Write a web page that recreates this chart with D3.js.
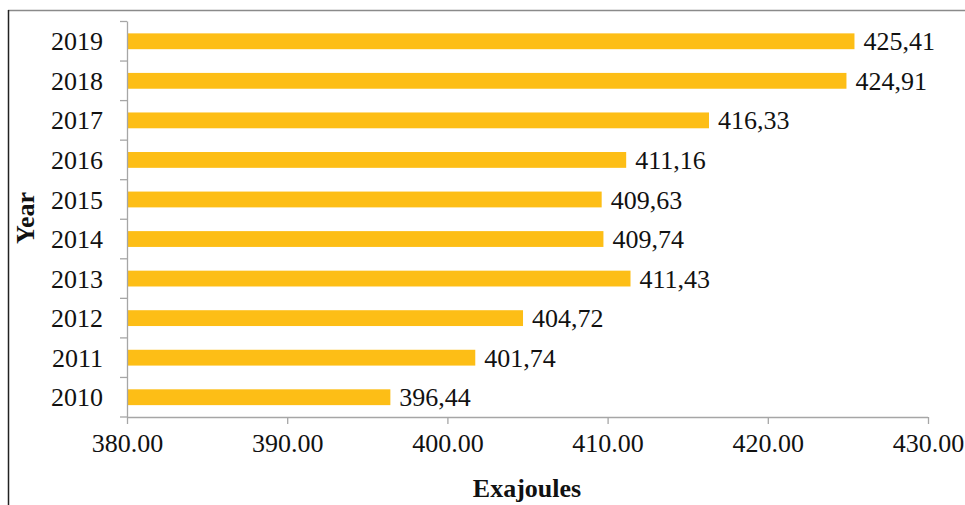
<!DOCTYPE html>
<html><head><meta charset="utf-8">
<script src="https://cdn.jsdelivr.net/npm/d3@7"></script>
<style>body{margin:0;background:#fff}svg{display:block}
svg text{font-family:"Liberation Serif","Times New Roman","DejaVu Serif",serif;}</style>
</head><body>
<svg id="c" width="965" height="505"></svg>
<script>
const years = ["2010","2011","2012","2013","2014","2015","2016","2017","2018","2019"];
const values = [396.44, 401.74, 404.72, 411.43, 409.74, 409.63, 411.16, 416.33, 424.91, 425.41];
const valueLabels = ["396,44","401,74","404,72","411,43","409,74","409,63","411,16","416,33","424,91","425,41"];
const xTicks = [380, 390, 400, 410, 420, 430];

const svg = d3.select("#c");
const fs = 26;
const mLeft = 127, mRight = 928, mTop = 21.5, mBottom = 417;

// frame
svg.append("line").attr("x1",8).attr("x2",965).attr("y1",10.5).attr("y2",10.5).attr("stroke","#8a8a8a").attr("stroke-width",1.5);
svg.append("line").attr("x1",8.5).attr("x2",8.5).attr("y1",10).attr("y2",505).attr("stroke","#222").attr("stroke-width",1.5);

const x = d3.scaleLinear().domain([380,430]).range([mLeft,mRight]);
const y = d3.scaleBand().domain(years.slice().reverse()).range([mTop,mBottom]).paddingInner(0.6).paddingOuter(0.3);

// bars
svg.selectAll("rect.bar").data(years).enter().append("rect")
  .attr("x", x(380))
  .attr("y", d => y(d))
  .attr("width", (d,i) => x(values[i]) - x(380))
  .attr("height", y.bandwidth())
  .attr("fill", "#FDBE16");

// value labels
svg.selectAll("text.val").data(years).enter().append("text")
  .attr("x", (d,i) => x(values[i]) + 9)
  .attr("y", d => y(d) + y.bandwidth()/2)
  .attr("dy","0.35em")
  .attr("font-size",fs).attr("fill","#111")
  .text((d,i) => valueLabels[i]);

// y axis
const step = (mBottom - mTop) / years.length;
svg.append("line").attr("x1",mLeft+0.5).attr("x2",mLeft+0.5).attr("y1",mTop).attr("y2",mBottom).attr("stroke","#a6a6a6").attr("stroke-width",1.3);
d3.range(years.length+1).forEach(i => {
  svg.append("line").attr("x1",mLeft-7).attr("x2",mLeft).attr("y1",mTop+i*step).attr("y2",mTop+i*step).attr("stroke","#a6a6a6").attr("stroke-width",1.3);
});
svg.selectAll("text.yl").data(years).enter().append("text")
  .attr("x", 103)
  .attr("y", d => y(d) + y.bandwidth()/2)
  .attr("dy","0.35em")
  .attr("text-anchor","end")
  .attr("font-size",fs).attr("fill","#111")
  .text(d => d);

// x axis
const xAxis = d3.axisBottom(x).tickValues(xTicks).tickSize(7).tickFormat(d3.format(".2f"));
const gx = svg.append("g").attr("transform",`translate(0,${mBottom})`).call(xAxis);
gx.attr("font-family", null);
gx.select(".domain").attr("stroke","#a6a6a6").attr("stroke-width",1.3).attr("d",`M${mLeft},0.5H${mRight}`);
gx.selectAll(".tick line").attr("stroke","#a6a6a6").attr("stroke-width",1.3);
gx.selectAll(".tick text").attr("font-size",fs).attr("fill","#111").attr("y",17);

// axis titles
svg.append("text").attr("x",527).attr("y",497).attr("text-anchor","middle")
  .attr("font-size",fs).attr("font-weight","bold").attr("fill","#111").text("Exajoules");
svg.append("text").attr("transform","translate(34,218) rotate(-90)").attr("text-anchor","middle")
  .attr("font-size",fs).attr("font-weight","bold").attr("fill","#111").text("Year");
</script>
</body></html>
